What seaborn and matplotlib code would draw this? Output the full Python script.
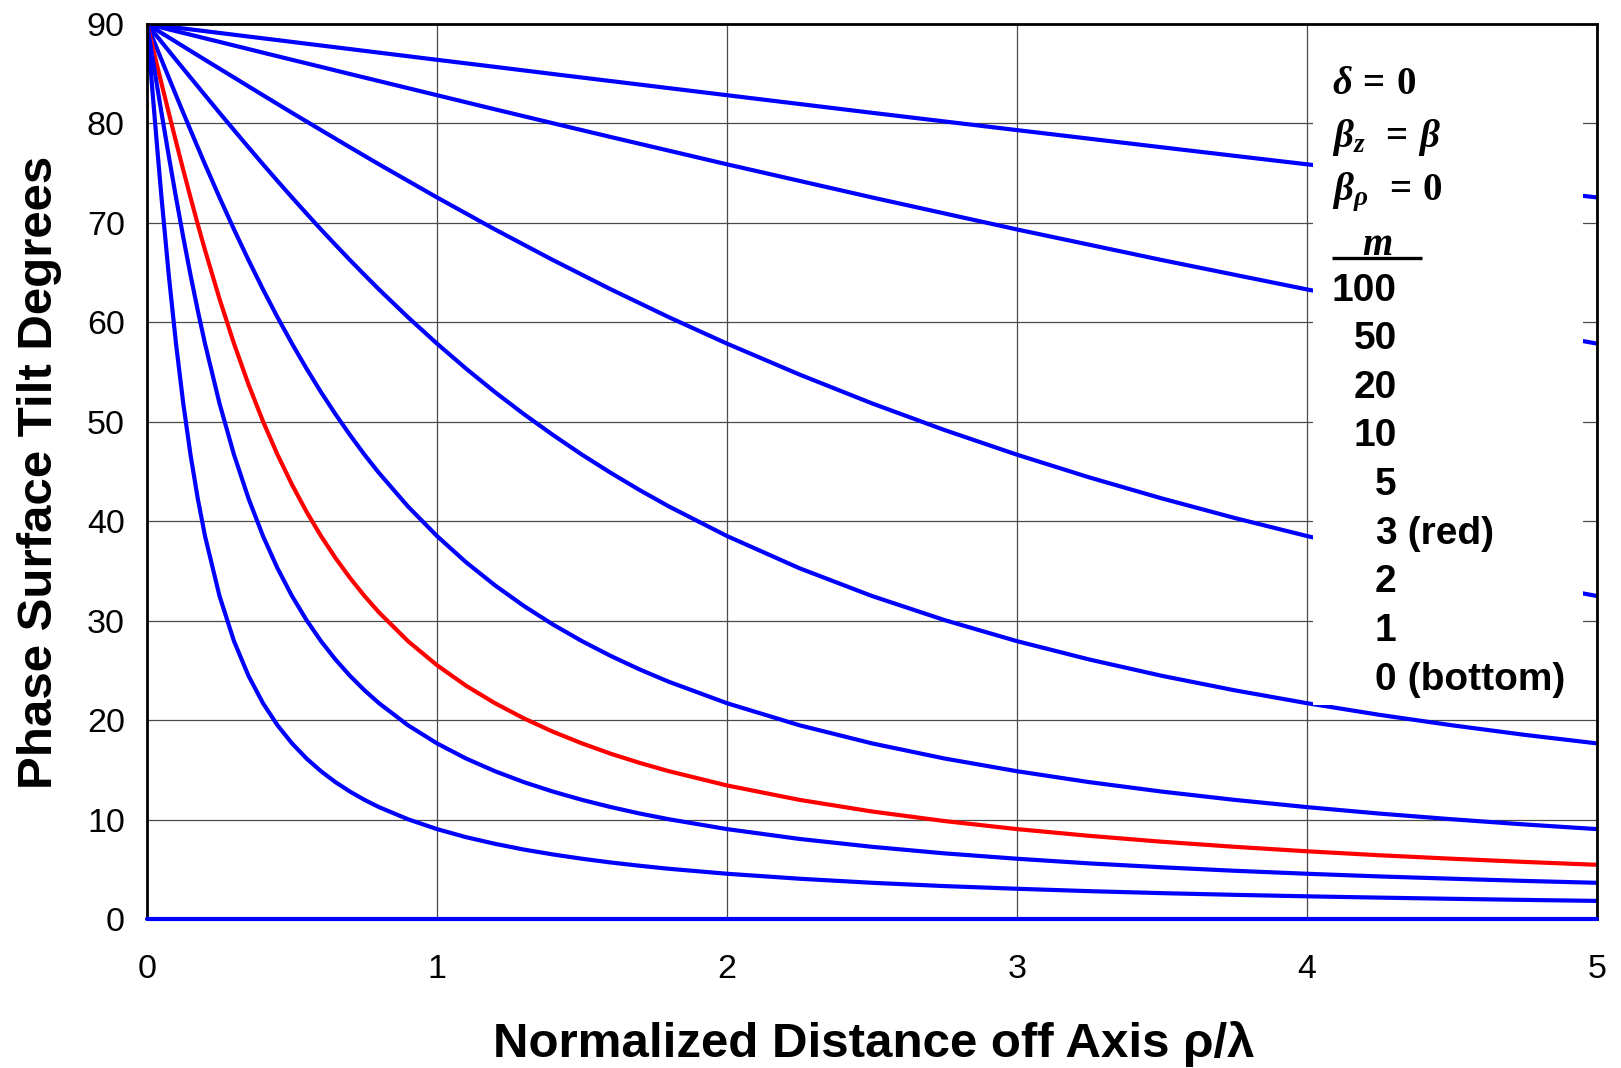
import matplotlib
matplotlib.use("Agg")
import matplotlib.pyplot as plt
import seaborn as sns
import pandas as pd
import numpy as np
from matplotlib.patches import Rectangle
from matplotlib.ticker import MultipleLocator

# ---- data ----
x_coarse = [0.0, 0.02, 0.05, 0.1, 0.15, 0.2, 0.25, 0.3, 0.4, 0.5, 0.6, 0.7, 0.8,
            1.0, 1.2, 1.4, 1.6, 1.8, 2.0, 2.5, 3.0, 3.5, 4.0, 4.5, 5.0]
x_mid = [0.0, 0.02, 0.05, 0.1, 0.15, 0.2, 0.25, 0.3, 0.4, 0.5, 0.6, 0.7, 0.8,
         1.0, 1.2, 1.4, 1.6, 1.8, 2.0, 2.25, 2.5, 2.75, 3.0, 3.25, 3.5, 3.75,
         4.0, 4.25, 4.5, 4.75, 5.0]
x_fine = [0.0, 0.01, 0.02, 0.035, 0.05, 0.075, 0.1, 0.125, 0.15, 0.175,
          0.2, 0.25, 0.3, 0.35, 0.4, 0.45, 0.5, 0.55, 0.6, 0.65,
          0.7, 0.75, 0.8, 0.9, 1.0, 1.1, 1.2, 1.3, 1.4, 1.5,
          1.6, 1.7, 1.8, 2.0, 2.25, 2.5, 2.75, 3.0, 3.25, 3.5,
          3.75, 4.0, 4.25, 4.5, 4.75, 5.0]

m_values = [100, 50, 20, 10, 5, 3, 2, 1, 0]

tilt_m100 = [90, 89.93, 89.82, 89.64, 89.46, 89.28, 89.10, 88.92, 88.56, 88.20, 87.84, 87.48, 87.12,
             86.40, 85.69, 84.97, 84.26, 83.55, 82.84, 81.07, 79.33, 77.60, 75.89, 74.21, 72.56]
tilt_m50 = [90, 89.86, 89.64, 89.28, 88.92, 88.56, 88.20, 87.84, 87.12, 86.40, 85.69, 84.97, 84.26,
            82.84, 81.42, 80.02, 78.63, 77.26, 75.89, 72.56, 69.34, 66.26, 63.31, 60.51, 57.86]
tilt_m20 = [90, 89.64, 89.10, 88.20, 87.30, 86.40, 85.51, 84.62, 82.84, 81.07, 79.33, 77.60, 75.89,
            72.56, 69.34, 66.26, 63.31, 60.51, 57.86, 54.75, 51.85, 49.17, 46.69, 44.40, 42.29, 40.33,
            38.51, 36.83, 35.27, 33.83, 32.48]
tilt_m10 = [90, 89.64, 89.28, 88.74, 88.20, 87.30, 86.40, 85.51, 84.62, 83.73,
            82.84, 81.07, 79.33, 77.60, 75.89, 74.21, 72.56, 70.94, 69.34, 67.79,
            66.26, 64.77, 63.31, 60.51, 57.86, 55.35, 52.98, 50.76, 48.67, 46.69,
            44.85, 43.11, 41.48, 38.51, 35.27, 32.48, 30.06, 27.94, 26.09, 24.45,
            23.00, 21.70, 20.53, 19.48, 18.52, 17.66]
tilt_m5 = [90, 89.28, 88.56, 87.48, 86.40, 84.62, 82.84, 81.07, 79.33, 77.60,
           75.89, 72.56, 69.34, 66.26, 63.31, 60.51, 57.86, 55.35, 52.98, 50.76,
           48.67, 46.69, 44.85, 41.48, 38.51, 35.88, 33.55, 31.47, 29.61, 27.94,
           26.44, 25.08, 23.85, 21.70, 19.48, 17.66, 16.14, 14.86, 13.76, 12.81,
           11.98, 11.25, 10.60, 10.03, 9.51, 9.04]
tilt_m3 = [90, 88.80, 87.60, 85.81, 84.02, 81.07, 78.17, 75.33, 72.56, 69.86,
           67.27, 62.36, 57.86, 53.76, 50.04, 46.69, 43.68, 40.96, 38.51, 36.30,
           34.30, 32.48, 30.83, 27.94, 25.52, 23.46, 21.70, 20.17, 18.83, 17.66,
           16.61, 15.69, 14.86, 13.43, 11.98, 10.81, 9.85, 9.04, 8.36, 7.77,
           7.26, 6.81, 6.41, 6.06, 5.74, 5.45]
tilt_m2 = [90, 88.20, 86.40, 83.72, 81.07, 76.74, 72.56, 68.56, 64.77, 61.20,
           57.86, 51.85, 46.69, 42.29, 38.51, 35.27, 32.48, 30.06, 27.94, 26.09,
           24.45, 23.00, 21.70, 19.48, 17.66, 16.14, 14.86, 13.76, 12.81, 11.98,
           11.25, 10.60, 10.03, 9.04, 8.05, 7.26, 6.60, 6.06, 5.59, 5.20,
           4.85, 4.55, 4.28, 4.05, 3.83, 3.64]
tilt_m1 = [90, 86.40, 82.84, 77.60, 72.56, 64.77, 57.86, 51.85, 46.69, 42.29,
           38.51, 32.48, 27.94, 24.45, 21.70, 19.48, 17.66, 16.14, 14.86, 13.76,
           12.81, 11.98, 11.25, 10.03, 9.04, 8.23, 7.56, 6.98, 6.49, 6.06,
           5.68, 5.35, 5.05, 4.55, 4.05, 3.64, 3.31, 3.04, 2.80, 2.60,
           2.43, 2.28, 2.15, 2.03, 1.92, 1.82]
tilt_m0 = [0.0] * len(x_coarse)

series = {100: (x_coarse, tilt_m100), 50: (x_coarse, tilt_m50), 20: (x_mid, tilt_m20),
          10: (x_fine, tilt_m10), 5: (x_fine, tilt_m5), 3: (x_fine, tilt_m3),
          2: (x_fine, tilt_m2), 1: (x_fine, tilt_m1), 0: (x_coarse, tilt_m0)}

x_ticks = [0, 1, 2, 3, 4, 5]
y_ticks = [0, 10, 20, 30, 40, 50, 60, 70, 80, 90]

legend_nums = ["100", "50", "20", "10", "5", "3", "2", "1", "0"]
legend_suffix = ["", "", "", "", "", " (red)", "", "", " (bottom)"]

# ---- build table ----
rows = []
for m in m_values:
    xs, ys = series[m]
    for xv, yv in zip(xs, ys):
        rows.append({"rho": xv, "tilt": yv, "m": m})
df = pd.DataFrame(rows)

palette = {m: ("#ff0000" if m == 3 else "#0000ff") for m in m_values}

sns.set_style("white")
plt.rcParams["font.family"] = ["Liberation Sans", "DejaVu Sans"]
plt.rcParams["text.color"] = "black"
plt.rcParams["axes.labelcolor"] = "black"
plt.rcParams["xtick.color"] = "black"
plt.rcParams["ytick.color"] = "black"
plt.rcParams["mathtext.fontset"] = "custom"
plt.rcParams["mathtext.rm"] = "Liberation Serif:bold"
plt.rcParams["mathtext.bf"] = "Liberation Serif:bold"
plt.rcParams["mathtext.it"] = "Liberation Serif:italic:bold"

W, H = 1621, 1068
fig = plt.figure(figsize=(W / 100, H / 100), dpi=100)
L, R, T, B = 147, 1597, 24, 919
ax = fig.add_axes([L / W, 1 - B / H, (R - L) / W, (B - T) / H])

sns.lineplot(data=df, x="rho", y="tilt", hue="m", palette=palette,
             hue_order=m_values, estimator=None, sort=False, legend=False,
             linewidth=3.0, ax=ax, zorder=2)

# the m = 0 line sits on the x axis: draw it over the spine, unclipped
for ln in ax.lines:
    yd = np.asarray(ln.get_ydata(), dtype=float)
    if yd.size and np.all(yd == 0):
        ln.set_clip_on(False)
        ln.set_zorder(2.6)

ax.set_xlim(0, 5)
ax.set_ylim(0, 90)
ax.set_xticks(x_ticks)
ax.set_yticks(y_ticks)
ax.xaxis.set_minor_locator(MultipleLocator(0.2))
ax.yaxis.set_minor_locator(MultipleLocator(2))
ax.set_axisbelow(True)
ax.grid(True, which="major", color="#4a4a4a", linewidth=0.9)

ax.tick_params(axis="both", which="major", direction="inout", length=14, width=1.5,
               labelsize=24.5, colors="black", labelcolor="black")
ax.tick_params(axis="both", which="minor", direction="in", length=5.5, width=1.5,
               colors="black")
ax.tick_params(axis="y", which="major", pad=9)
ax.tick_params(axis="x", which="major", pad=18)
ax.tick_params(top=False, right=False, which="both")

for s in ax.spines.values():
    s.set_color("black")
    s.set_linewidth(2)
    s.set_visible(True)

ax.set_xlabel("Normalized Distance off Axis ρ/λ", fontsize=35.5, fontweight="bold",
              color="black")
ax.set_ylabel("Phase Surface Tilt Degrees", fontsize=35.5, fontweight="bold",
              color="black")
ax.xaxis.set_label_coords((873.5 - L) / (R - L), (B - 1044) / (B - T))
ax.xaxis.label.set_va("center")
ax.yaxis.set_label_coords((40 - L) / (R - L), (B - 472.5) / (B - T))
ax.yaxis.label.set_va("center")

# white annotation box
ax.add_patch(Rectangle((4.02, 21.55), 0.93, 90 - 21.55, facecolor="white",
                       edgecolor="none", zorder=2.2))

gx = 4.085
ax.text(gx, 84.0, r"$\delta\,=\,0$", fontsize=28, va="center", ha="left", zorder=3,
        color="black")
ax.text(gx, 78.6, r"$\beta_z\ \,=\,\beta$", fontsize=28, va="center", ha="left", zorder=3,
        color="black")
ax.text(gx, 73.1, r"$\beta_\rho\ \,=\,0$", fontsize=28, va="center", ha="left", zorder=3,
        color="black")
ax.text(4.241, 67.8, r"$m$", fontsize=28, va="center", ha="center", zorder=3, color="black")
ax.plot([4.085, 4.398], [66.5, 66.5], color="black", linewidth=2.4, zorder=3,
        solid_capstyle="butt")

num_x = 4.309
y0 = 63.2
step = 4.89
for i, (n, suf) in enumerate(zip(legend_nums, legend_suffix)):
    yy = y0 - i * step
    ax.text(num_x, yy, n, fontsize=28, fontweight="bold", ha="right", va="center",
            zorder=3, color="black")
    if suf:
        ax.text(num_x, yy, suf, fontsize=28, fontweight="bold", ha="left", va="center",
                zorder=3, color="black")

fig.savefig("out.png", dpi=100)
